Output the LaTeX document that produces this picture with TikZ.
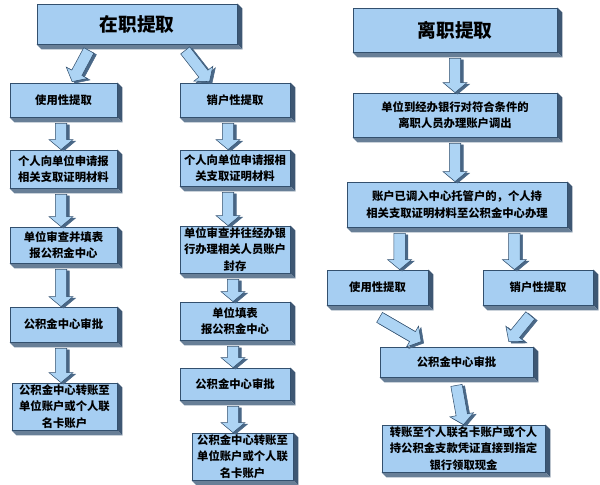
\documentclass[tikz,border=0pt]{standalone}
\usepackage{fontspec}
\newfontfamily\cjk{Noto Sans CJK SC}
\usetikzlibrary{calc,backgrounds}
\definecolor{face}{HTML}{A6CEF2}
\definecolor{bordc}{HTML}{33506E}
\definecolor{extR}{HTML}{3E5773}
\definecolor{extB}{HTML}{687F97}
\definecolor{arrL}{HTML}{ADD4F4}
\definecolor{arrD}{HTML}{4A6887}
\newcommand{\titlef}{\cjk\bfseries\fontsize{14}{16}\selectfont}
\newcommand{\bodyf}{\cjk\bfseries\fontsize{8.5}{12.5}\selectfont}
\tikzset{
  bx/.style 2 args={draw=bordc, line width=0.6pt, fill=face, align=center, inner sep=1pt,
    minimum width=#1*0.75pt, minimum height=#2*0.75pt, font=\bodyf, text=black},
  arrLs/.style={fill=arrL, draw=bordc, line width=0.4pt},
  arrDs/.style={fill=arrD, draw=arrD, line width=0.4pt}
}
\newcommand{\ext}[1]{%
  \fill[extR] (#1.north east) -- ($(#1.north east)+(5,5)$) -- ($(#1.south east)+(5,5)$) -- (#1.south east) -- cycle;
  \fill[extB] (#1.south west) -- (#1.south east) -- ($(#1.south east)+(5,5)$) -- ($(#1.south west)+(5,5)$) -- cycle;}
\newcommand{\arrshape}[3]{%
  \coordinate (bc) at ($(#2)!7.5pt!(#1)$);
  \filldraw[#3] ($(#1)!4.3pt!90:(#2)$) -- ($(bc)!4.3pt!-90:(#1)$) -- ($(bc)!9pt!-90:(#1)$) -- (#2)
    -- ($(bc)!9pt!90:(#1)$) -- ($(bc)!4.3pt!90:(#1)$) -- ($(#1)!4.3pt!-90:(#2)$) -- cycle;}
\newcommand{\barrow}[2]{%
  \coordinate (ba) at #1; \coordinate (bb) at #2;
  \coordinate (da) at ($(ba)+(2.5,1.5)$); \coordinate (db) at ($(bb)+(2.5,1.5)$);
  \arrshape{da}{db}{arrDs}
  \arrshape{ba}{bb}{arrLs}}
\begin{document}
\begin{tikzpicture}[x=0.75pt,y=-0.75pt]
\useasboundingbox (0,0) rectangle (600,485);
% left part
\node[bx={200}{40}, font=\titlef] (L1) at (137,24) {在职提取};
\node[bx={107}{34}] (L2a) at (63.5,100) {使用性提取};
\node[bx={110}{34}] (L2b) at (235,100) {销户性提取};
\node[bx={107}{38}] (L3a) at (63.5,169) {个人向单位申请报\\相关支取证明材料};
\node[bx={110}{36}] (L3b) at (235,168) {个人向单位申请报相\\关支取证明材料};
\node[bx={107}{36}] (L4a) at (63.5,245) {单位审查并填表\\报公积金中心};
\node[bx={110}{45}] (L4b) at (235,249.5) {单位审查并往经办银\\行办理相关人员账户\\封存};
\node[bx={107}{35}] (L5a) at (63.5,324.5) {公积金中心审批};
\node[bx={110}{38}] (L5b) at (235,321) {单位填表\\报公积金中心};
\node[bx={105}{47}] (L6a) at (64.5,406.5) {公积金中心转账至\\单位账户或个人联\\名卡账户};
\node[bx={110}{32}] (L6b) at (235,384) {公积金中心审批};
\node[bx={101}{47}] (L7b) at (242.5,456.5) {公积金中心转账至\\单位账户或个人联\\名卡账户};
% right part
\node[bx={204}{44}, font=\titlef] (R1) at (455,30) {离职提取};
\node[bx={204}{44}] (R2) at (455,115) {单位到经办银行对符合条件的\\离职人员办理账户调出};
\node[bx={220}{45}] (R3) at (457,204.5) {账户已调入中心托管户的，个人持\\相关支取证明材料至公积金中心办理};
\node[bx={101}{35}] (R4a) at (377.5,287.5) {使用性提取};
\node[bx={110}{35}] (R4b) at (538,287.5) {销户性提取};
\node[bx={153}{30}] (R5) at (456.5,362) {公积金中心审批};
\node[bx={163}{43}] (R6) at (463.5,448.5) {转账至个人联名卡账户或个人\\持公积金支款凭证直接到指定\\银行领取现金};
\begin{scope}[on background layer]
\foreach \n in {L1,L2a,L2b,L3a,L3b,L4a,L4b,L5a,L5b,L6a,L6b,L7b,R1,R2,R3,R4a,R4b,R5,R6}{\ext{\n}}
\end{scope}
% arrows, left part
\barrow{($(L1.south west)!0.26!(L1.south east)+(0,6)$)}{($(L2a.north west)!0.58!(L2a.north east)+(0,-1)$)}
\barrow{($(L1.south west)!0.74!(L1.south east)+(0,6)$)}{($(L2b.north west)!0.27!(L2b.north east)+(0,-1)$)}
\barrow{($(L2a.south)+(-2.5,6)$)}{($(L3a.north)+(-2.5,0)$)}
\barrow{($(L3a.south)+(-2.5,6)$)}{($(L4a.north)+(-2.5,0)$)}
\barrow{($(L4a.south)+(-2.5,6)$)}{($(L5a.north)+(-2.5,0)$)}
\barrow{($(L5a.south)+(-2.5,6)$)}{($(L6a.north)+(-3.5,0)$)}
\barrow{($(L2b.south)+(-7,6)$)}{($(L3b.north)+(-7,0)$)}
\barrow{($(L3b.south)+(-7,6)$)}{($(L4b.north)+(-7,0)$)}
\barrow{($(L4b.south)+(-2,6)$)}{($(L5b.north)+(-2,0)$)}
\barrow{($(L5b.south)+(-2,6)$)}{($(L6b.north)+(-2,0)$)}
\barrow{($(L6b.south)+(-2,6)$)}{($(L7b.north)+(-9.5,0)$)}
% arrows, right part
\barrow{($(R1.south)+(0,6)$)}{(R2.north)}
\barrow{($(R2.south)+(0,6)$)}{($(R3.north)+(-2,0)$)}
\coordinate (r3a) at ($(R3.south west)!0.24!(R3.south east)$);
\coordinate (r3b) at ($(R3.south west)!0.76!(R3.south east)$);
\barrow{($(r3a)+(0,6)$)}{(r3a |- R4a.north)}
\barrow{($(r3b)+(0,6)$)}{(r3b |- R4b.north)}
\barrow{($(R4a.south west)!0.52!(R4a.south east)+(0,12)$)}{($(R5.north west)!0.27!(R5.north east)+(0,-5)$)}
\barrow{($(R4b.south west)!0.43!(R4b.south east)+(0,10)$)}{($(R5.north west)!0.84!(R5.north east)+(0,-5)$)}
\barrow{($(R5.south)+(0,8)$)}{(R6.north)}
\end{tikzpicture}
\end{document}
